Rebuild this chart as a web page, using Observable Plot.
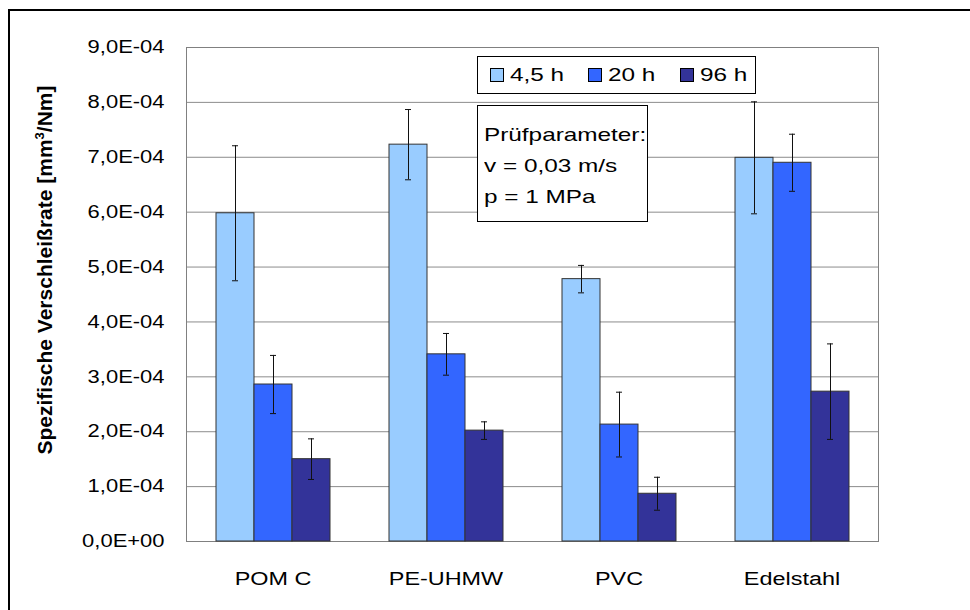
<!DOCTYPE html>
<html>
<head>
<meta charset="utf-8">
<script src="https://cdn.jsdelivr.net/npm/d3@7"></script>
<script src="https://cdn.jsdelivr.net/npm/@observablehq/plot@0.6"></script>
<style>
  html, body { margin: 0; padding: 0; background: #fff; overflow: hidden; }
  #wrap { position: relative; width: 970px; height: 610px; font-family: "Liberation Sans", Arial, sans-serif; color: #000; }
  #chart { position: absolute; left: 0; top: 0; }
  #outer { position: absolute; left: 8px; top: 9px; width: 1000px; height: 1000px; border: 2px solid #000; box-sizing: border-box; }
  #ytitle { position: absolute; left: 45px; top: 270px; transform: translate(-50%, -50%) rotate(-90deg); font-weight: bold; font-size: 21px; white-space: nowrap; }
  #ytitle sup { font-size: 0.62em; vertical-align: 0.65em; line-height: 0; }
  #legend { position: absolute; left: 477px; top: 56px; width: 279px; height: 38px; border: 1px solid #000; box-sizing: border-box; background: #fff; font-size: 19px; }
  .item { position: absolute; top: 0; height: 36px; display: flex; align-items: center; white-space: nowrap; }
  .sw { width: 12px; height: 12px; border: 1px solid #000; margin-right: 6px; box-sizing: content-box; flex: none; }
  .stretch { display: inline-block; transform-origin: 0 50%; }
  #note { position: absolute; left: 477px; top: 105px; width: 171px; height: 117px; border: 1px solid #000; box-sizing: border-box; background: #fff; font-size: 19px; padding: 13px 0 0 6px; line-height: 31px; white-space: nowrap; }
  #note div { transform-origin: 0 50%; }
</style>
</head>
<body>
<div id="wrap">
  <div id="chart"></div>
  <div id="outer"></div>
  <div id="ytitle"></div>
  <div id="legend"></div>
  <div id="note"></div>
</div>
<script>
// ---- data ----
const categories = ["POM C", "PE-UHMW", "PVC", "Edelstahl"];
const seriesNames = ["4,5 h", "20 h", "96 h"];
const seriesColors = ["#99CCFF", "#3366FF", "#333399"];
const values45 = [5.98e-4, 7.23e-4, 4.78e-4, 6.99e-4];
const values20 = [2.86e-4, 3.41e-4, 2.13e-4, 6.90e-4];
const values96 = [1.50e-4, 2.02e-4, 0.87e-4, 2.73e-4];
const errors45 = [1.23e-4, 0.64e-4, 0.25e-4, 1.02e-4];
const errors20 = [0.53e-4, 0.38e-4, 0.59e-4, 0.52e-4];
const errors96 = [0.37e-4, 0.16e-4, 0.30e-4, 0.87e-4];
const yTicks = [0, 1e-4, 2e-4, 3e-4, 4e-4, 5e-4, 6e-4, 7e-4, 8e-4, 9e-4];
const yTickLabels = ["0,0E+00", "1,0E-04", "2,0E-04", "3,0E-04", "4,0E-04", "5,0E-04", "6,0E-04", "7,0E-04", "8,0E-04", "9,0E-04"];
const yTitle = "Spezifische Verschleißrate [mm<sup>3</sup>/Nm]";
const noteLines = ["Prüfparameter:", "v = 0,03 m/s", "p = 1 MPa"];

// ---- table ----
const allValues = [values45, values20, values96];
const allErrors = [errors45, errors20, errors96];
const rows = categories.flatMap((cat, i) =>
  seriesNames.map((ser, j) => ({cat, ser, v: allValues[j][i], e: allErrors[j][i]})));

const fontFam = "'Liberation Sans', Arial, sans-serif";

const chart = Plot.plot({
  width: 970,
  height: 610,
  marginLeft: 185,
  marginRight: 91,
  marginTop: 47,
  marginBottom: 69,
  style: {fontFamily: fontFam, fontSize: "18px", color: "#000", background: "transparent", overflow: "visible"},
  fx: {domain: categories, padding: 0, label: null},
  x: {domain: seriesNames, paddingInner: 0, paddingOuter: 0.75, axis: null},
  y: {domain: [0, 9e-4], axis: null},
  color: {domain: seriesNames, range: seriesColors},
  marks: [
    Plot.ruleY(yTicks, {stroke: "#8c8c8c", strokeWidth: 1}),
    Plot.frame({facet: "super", stroke: "#808080"}),
    Plot.barY(rows, {fx: "cat", x: "ser", y: "v", fill: "ser", stroke: "#333", strokeWidth: 1}),
    Plot.ruleX(rows, {fx: "cat", x: "ser", y1: d => d.v - d.e, y2: d => d.v + d.e, stroke: "#111", strokeWidth: 1}),
    Plot.tickY(rows, {fx: "cat", x: "ser", y: d => d.v + d.e, stroke: "#111", insetLeft: 16, insetRight: 16}),
    Plot.tickY(rows, {fx: "cat", x: "ser", y: d => d.v - d.e, stroke: "#111", insetLeft: 16, insetRight: 16}),
    Plot.axisY(yTicks, {tickSize: 0, tickPadding: 22, label: null, fontSize: 18,
      tickFormat: d => yTickLabels[yTicks.indexOf(d)]}),
    Plot.axisFx({anchor: "bottom", tickSize: 0, tickPadding: 31, label: null, fontSize: 18})
  ]
});
document.getElementById("chart").appendChild(chart);

// widen the horizontal axis texts as in the reference rendering
chart.querySelectorAll("text").forEach(t => {
  const g = t.closest("g[aria-label]");
  const lab = g ? g.getAttribute("aria-label") : "";
  const s = lab.startsWith("fx") ? 1.3 : 1.22;
  const w = t.getComputedTextLength();
  if (w > 0) {
    t.setAttribute("textLength", (w * s).toFixed(1));
    t.setAttribute("lengthAdjust", "spacingAndGlyphs");
  }
});

// y title
document.getElementById("ytitle").innerHTML = yTitle;

// legend
const legend = document.getElementById("legend");
const itemLefts = [12, 110, 202];
seriesNames.forEach((s, i) => {
  const it = document.createElement("div");
  it.className = "item";
  it.style.left = itemLefts[i] + "px";
  const sw = document.createElement("span");
  sw.className = "sw";
  sw.style.background = seriesColors[i];
  const tx = document.createElement("span");
  tx.className = "stretch";
  tx.style.transform = "scaleX(1.28)";
  tx.textContent = s;
  it.appendChild(sw); it.appendChild(tx);
  legend.appendChild(it);
});

// note box
const note = document.getElementById("note");
noteLines.forEach(t => {
  const d = document.createElement("div");
  d.textContent = t;
  d.style.transform = "scaleX(1.28)";
  note.appendChild(d);
});
</script>
</body>
</html>
